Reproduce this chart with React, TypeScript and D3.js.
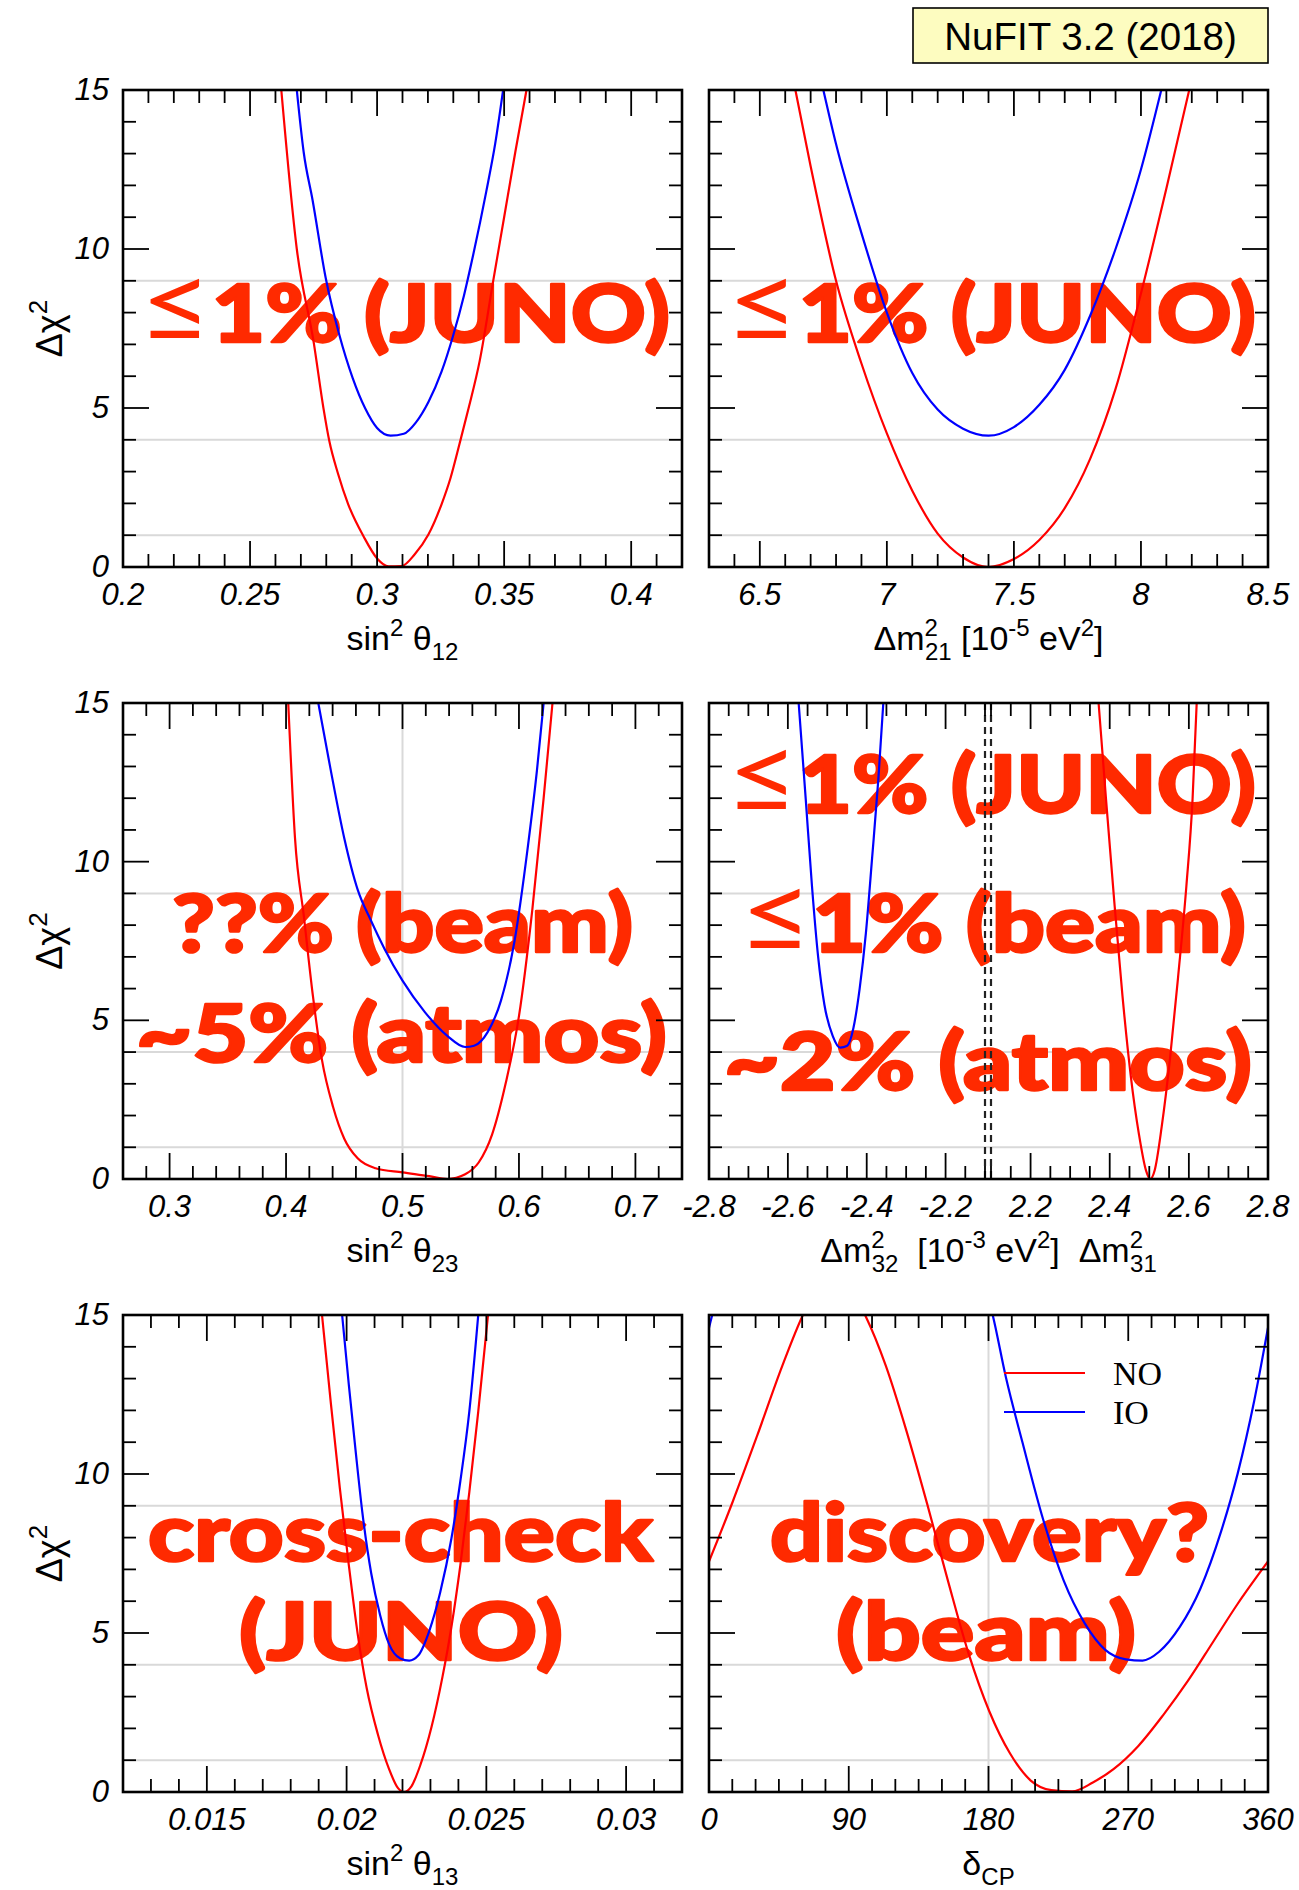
import * as d3 from "d3";

const W = 1299;
const H = 1890;

const NO_COLOR = "#ff0000";
const IO_COLOR = "#0000ff";
const NOTE_RED = "#ff2a00";
const SANS = "'Liberation Sans', Arial, Helvetica, sans-serif";
const NOTE_FONT = "Lato, 'Open Sans', 'DejaVu Sans', sans-serif";

// Δχ² profiles, as [x, Δχ²]
const s12NO: [number, number][] = [
  [0.2623, 15], [0.2684, 10], [0.2751, 7.04], [0.2789, 4.99], [0.2812, 3.96], [0.2846, 2.94],
  [0.2886, 1.98], [0.2947, 0.96], [0.3, 0.27], [0.3045, 0.02], [0.3096, 0.03], [0.3149, 0.41],
  [0.3202, 1.02], [0.3254, 1.98], [0.3289, 2.8], [0.3325, 3.89], [0.336, 4.99], [0.3404, 6.49],
  [0.3456, 8.95], [0.35, 11.0], [0.3544, 13.05], [0.3588, 15],
];
const s12IO: [number, number][] = [
  [0.2684, 15], [0.2711, 13.05], [0.2746, 11.54], [0.2798, 9.08], [0.2851, 7.31], [0.2904, 5.94],
  [0.2953, 4.99], [0.3, 4.37], [0.3053, 4.13], [0.3105, 4.19], [0.3153, 4.55], [0.3202, 5.19],
  [0.3254, 6.15], [0.3298, 7.24], [0.3342, 8.54], [0.3377, 9.77], [0.343, 11.82], [0.3465, 13.32],
  [0.3496, 15],
];

const dm21NO: [number, number][] = [
  [6.64, 15], [6.7, 12.6], [6.8, 9.0], [6.9, 6.4], [7.0, 4.2], [7.1, 2.4], [7.2, 1.05], [7.3, 0.3],
  [7.4, 0], [7.5, 0.25], [7.6, 0.85], [7.7, 1.85], [7.8, 3.4], [7.9, 5.6], [8.0, 8.6], [8.1, 11.9],
  [8.19, 15],
];
const dm21IO: [number, number][] = [
  [6.75, 15], [6.8, 13.3], [6.9, 10.5], [7.0, 8.0], [7.1, 6.1], [7.2, 4.95], [7.3, 4.35], [7.4, 4.13],
  [7.5, 4.4], [7.6, 5.1], [7.7, 6.2], [7.8, 7.9], [7.9, 10.0], [8.0, 12.5], [8.08, 15],
];

const s23NO: [number, number][] = [
  [0.4019, 15], [0.4077, 10.74], [0.4154, 8.25], [0.4231, 5.76], [0.4308, 3.76], [0.4404, 2.27],
  [0.45, 1.27], [0.4615, 0.65], [0.4769, 0.34], [0.5, 0.21], [0.523, 0.09], [0.5385, 0],
  [0.5538, 0.15], [0.5654, 0.52], [0.5769, 1.4], [0.5885, 3.0], [0.6, 5.13], [0.6115, 8.5],
  [0.6212, 12.0], [0.6288, 15],
];
const s23IO: [number, number][] = [
  [0.4277, 15], [0.4385, 12.86], [0.45, 10.74], [0.4615, 9.12], [0.4731, 8.13], [0.4846, 7.25],
  [0.5, 6.25], [0.5192, 5.26], [0.5385, 4.51], [0.5538, 4.16], [0.5615, 4.2], [0.5731, 4.63],
  [0.5846, 5.63], [0.5962, 7.5], [0.6077, 10.49], [0.6154, 12.86], [0.6212, 15],
];

// Δm²3ℓ: IO lives on the negative half, NO on the positive half
const dm3lIO: [number, number][] = [
  [-2.5726, 15], [-2.5547, 11.98], [-2.5389, 9.24], [-2.5232, 7.0], [-2.5074, 5.5], [-2.4863, 4.51],
  [-2.4674, 4.14], [-2.4495, 4.2], [-2.4337, 4.76], [-2.4179, 6.0], [-2.4021, 7.75], [-2.3863, 10.12],
  [-2.3705, 12.6], [-2.3579, 15],
];
const dm3lNO: [number, number][] = [
  [2.3719, 15], [2.3906, 11.98], [2.4115, 8.75], [2.4323, 5.76], [2.4531, 3.26], [2.474, 1.4],
  [2.4917, 0.27], [2.502, 0], [2.5135, 0.27], [2.5313, 1.64], [2.5521, 3.76], [2.5729, 6.38],
  [2.5938, 9.24], [2.6094, 11.98], [2.6198, 15],
];

const s13NO: [number, number][] = [
  [0.01912, 15], [0.01944, 12.2], [0.01976, 9.54], [0.02008, 7.13], [0.0204, 4.95], [0.02072, 3.26],
  [0.02112, 1.81], [0.02152, 0.72], [0.02184, 0.12], [0.02204, 0], [0.02232, 0.18], [0.02264, 0.85],
  [0.02304, 2.05], [0.02343, 3.62], [0.02375, 5.19], [0.02407, 7.13], [0.02439, 9.42],
  [0.02471, 11.96], [0.02506, 15],
];
const s13IO: [number, number][] = [
  [0.01984, 15], [0.02008, 12.8], [0.02032, 10.75], [0.02056, 8.82], [0.02088, 6.88], [0.0212, 5.56],
  [0.02152, 4.65], [0.02192, 4.2], [0.02224, 4.13], [0.02256, 4.29], [0.02296, 5.07], [0.02335, 6.28],
  [0.02375, 7.97], [0.02407, 9.78], [0.02439, 11.96], [0.02471, 15],
];

const dcpNO: [number, number][] = [
  [0, 7.25], [15.2, 9.12], [31.2, 11.23], [47.2, 13.4], [60.5, 15], [80, 16.5], [100.5, 15],
  [113.9, 13.4], [127.2, 11.35], [140.5, 9.06], [153.9, 6.64], [167.2, 4.35], [180.5, 2.54],
  [193.9, 1.21], [207.2, 0.36], [220.5, 0.06], [233.9, 0.02], [247.2, 0.3], [260.5, 0.72],
  [276.5, 1.45], [292.5, 2.42], [308.5, 3.5], [324.5, 4.71], [340.5, 5.92], [360, 7.25],
];
const dcpIO: [number, number][] = [
  [0, 14.6], [10, 16.5], [90, 24], [170, 17], [182.7, 15], [191.2, 13.04], [201.9, 10.99],
  [215.2, 8.57], [228.5, 6.64], [241.9, 5.31], [255.2, 4.47], [268.5, 4.17], [279.2, 4.13],
  [289.9, 4.41], [303.2, 5.19], [316.5, 6.4], [329.9, 8.21], [340.5, 10.02], [351.2, 12.32],
  [360, 14.6],
];

// axes
const chi2Labels = [0, 5, 10, 15];
const chi2Grid = [1, 4, 9];
const s12Ticks = [0.2, 0.25, 0.3, 0.35, 0.4];
const dm21Ticks = [6.5, 7, 7.5, 8, 8.5];
const s23Ticks = [0.3, 0.4, 0.5, 0.6, 0.7];
const dm32Ticks = [-2.8, -2.6, -2.4, -2.2];
const dm31Ticks = [2.2, 2.4, 2.6, 2.8];
const s13Ticks = [0.015, 0.02, 0.025, 0.03];
const dcpTicks = [0, 90, 180, 270, 360];
const legendNames = ["NO", "IO"];

// layout
const COLS: [number, number][] = [[123, 682], [709, 1268]];
const ROWS: [number, number][] = [[90, 567], [703, 1179], [1315, 1792]];
const MAJOR = 26;
const MINOR = 13;
const TITLE_SIZE = 34;
const SMALL = 24;

type Seg = { domain: [number, number]; range?: [number, number]; labels: number[]; minor: number };
type Curve = { data: [number, number][]; color: string; seg?: number };
type Note = { text: string; cx: number; base: number; width: number };

function stepValues(d0: number, d1: number, step: number) {
  const n = Math.round((d1 - d0) / step);
  return d3.range(n + 1).map((i) => +(d0 + i * step).toFixed(9));
}

// big red remark; the "≤" is set larger and lighter, as on the slide
function NoteText({ n }: { n: Note }) {
  const le = n.text.startsWith("≤");
  return (
    <text x={n.cx} y={n.base - 1} textLength={n.width} lengthAdjust="spacingAndGlyphs">
      {le && (
        <tspan fontSize={108} fontWeight={400} strokeWidth={0}>
          ≤
        </tspan>
      )}
      {le ? n.text.slice(1) : n.text}
    </text>
  );
}

function Panel(props: {
  id: string;
  col: number;
  row: number;
  segs: Seg[];
  curves: Curve[];
  vgrid?: number[];
  notes: Note[];
  title: any;
  dashed?: boolean;
  legend?: boolean;
}) {
  const { id, col, row, segs, curves, vgrid = [], notes, title, dashed, legend } = props;
  const [x0, x1] = COLS[col];
  const [y0, y1] = ROWS[row];
  const sy = d3.scaleLinear().domain([0, 15]).range([y1, y0]);
  const scales = segs.map((s) => d3.scaleLinear().domain(s.domain).range(s.range ?? [x0, x1]));

  const ticks: any[] = [];
  segs.forEach((s, si) => {
    const sx = scales[si];
    stepValues(s.domain[0], s.domain[1], s.minor).forEach((v, i) => {
      const major = s.labels.some((l) => Math.abs(l - v) < s.minor / 10);
      const len = major ? MAJOR : MINOR;
      const x = sx(v);
      ticks.push(<line key={`b${si}-${i}`} x1={x} x2={x} y1={y1} y2={y1 - len} />);
      ticks.push(<line key={`t${si}-${i}`} x1={x} x2={x} y1={y0} y2={y0 + len} />);
    });
  });
  stepValues(0, 15, 1).forEach((v, i) => {
    const len = v % 5 === 0 ? MAJOR : MINOR;
    const y = sy(v);
    ticks.push(<line key={`l${i}`} x1={x0} x2={x0 + len} y1={y} y2={y} />);
    ticks.push(<line key={`r${i}`} x1={x1} x2={x1 - len} y1={y} y2={y} />);
  });

  const cy = (y0 + y1) / 2;
  const cx = (x0 + x1) / 2;

  return (
    <g>
      <defs>
        <clipPath id={`clip-${id}`}>
          <rect x={x0} y={y0} width={x1 - x0} height={y1 - y0} />
        </clipPath>
      </defs>
      {/* reference lines */}
      <g stroke="#d9d9d9" strokeWidth={2}>
        {chi2Grid.map((g) => (
          <line key={g} x1={x0} x2={x1} y1={sy(g)} y2={sy(g)} />
        ))}
        {vgrid.map((g) => (
          <line key={`v${g}`} x1={scales[0](g)} x2={scales[0](g)} y1={y0} y2={y1} />
        ))}
      </g>
      {/* red annotations */}
      <g
        fill={NOTE_RED}
        stroke={NOTE_RED}
        strokeWidth={2.5}
        strokeLinejoin="round"
        fontFamily={NOTE_FONT}
        fontWeight={900}
        fontSize={80}
        textAnchor="middle"
      >
        {notes.map((n, i) => (
          <NoteText key={i} n={n} />
        ))}
      </g>
      {/* curves */}
      <g clipPath={`url(#clip-${id})`} fill="none" strokeWidth={2.2}>
        {curves.map((c, i) => {
          const sx = scales[c.seg ?? 0];
          const line = d3
            .line<[number, number]>()
            .x((d) => sx(d[0]))
            .y((d) => sy(d[1]))
            .curve(d3.curveMonotoneX);
          return <path key={i} d={line(c.data) ?? ""} stroke={c.color} />;
        })}
      </g>
      {dashed &&
        segs.slice(0, 2).map((s, si) => {
          const x = si === 0 ? scales[0](s.domain[1]) : scales[1](s.domain[0]);
          return (
            <line key={si} x1={x} x2={x} y1={y0} y2={y1} stroke="#222" strokeWidth={2.2} strokeDasharray="7,5" />
          );
        })}
      <g stroke="#000" strokeWidth={1.8}>{ticks}</g>
      <rect x={x0} y={y0} width={x1 - x0} height={y1 - y0} fill="none" stroke="#000" strokeWidth={2.6} />
      {/* tick labels */}
      <g fontFamily={SANS} fontStyle="italic" fontSize={31} fill="#000">
        {segs.map((s, si) =>
          s.labels.map((l) => (
            <text key={`${si}-${l}`} x={scales[si](l)} y={y1 + 38} textAnchor="middle">
              {String(l)}
            </text>
          ))
        )}
        {col === 0 &&
          chi2Labels.map((v) => (
            <text key={`y${v}`} x={x0 - 14} y={sy(v) + 10} textAnchor="end">
              {String(v)}
            </text>
          ))}
      </g>
      {col === 0 && (
        <text
          transform={`translate(62,${cy}) rotate(-90)`}
          textAnchor="middle"
          fontFamily={SANS}
          fontSize={TITLE_SIZE + 2}
        >
          Δχ
          <tspan dy={-15} fontSize={SMALL + 2}>
            2
          </tspan>
        </text>
      )}
      <g fontFamily={SANS} fontSize={TITLE_SIZE} fill="#000">
        <text x={cx} y={y1 + 83} textAnchor="middle" style={{ whiteSpace: "pre" }}>
          {title}
        </text>
      </g>
      {legend && (
        <g>
          {legendNames.map((name, i) => (
            <g key={name}>
              <line
                x1={1004}
                x2={1085}
                y1={1373 + i * 39}
                y2={1373 + i * 39}
                stroke={i === 0 ? NO_COLOR : IO_COLOR}
                strokeWidth={2.2}
              />
              <text
                x={1113}
                y={1373 + i * 39 + 12}
                fontFamily="'Liberation Serif', 'Times New Roman', serif"
                fontSize={34}
              >
                {name}
              </text>
            </g>
          ))}
        </g>
      )}
    </g>
  );
}

const SUP = { dy: -14, fontSize: SMALL };

export default function App() {
  return (
    <svg
      width={W}
      height={H}
      viewBox={`0 0 ${W} ${H}`}
      style={{ position: "absolute", left: 0, top: 0, background: "#fff" }}
    >
      <rect width={W} height={H} fill="#fff" />
      <rect x={913} y={8} width={355} height={55} fill="#fdfcc0" stroke="#000" strokeWidth={1.6} />
      <text x={1090.5} y={50} textAnchor="middle" fontFamily={SANS} fontSize={38.5}>
        NuFIT 3.2 (2018)
      </text>

      <Panel
        id="s12"
        col={0}
        row={0}
        segs={[{ domain: [0.2, 0.42], labels: s12Ticks, minor: 0.01 }]}
        curves={[
          { data: s12NO, color: NO_COLOR },
          { data: s12IO, color: IO_COLOR },
        ]}
        notes={[{ text: "≤1% (JUNO)", cx: 404.5, base: 343, width: 531 }]}
        title={
          <>
            {"sin"}
            <tspan {...SUP}>2</tspan>
            <tspan dy={14}>{" θ"}</tspan>
            <tspan dy={10} fontSize={SMALL}>12</tspan>
          </>
        }
      />
      <Panel
        id="dm21"
        col={1}
        row={0}
        segs={[{ domain: [6.3, 8.5], labels: dm21Ticks, minor: 0.1 }]}
        curves={[
          { data: dm21NO, color: NO_COLOR },
          { data: dm21IO, color: IO_COLOR },
        ]}
        notes={[{ text: "≤1% (JUNO)", cx: 991, base: 343, width: 530 }]}
        title={
          <>
            {"Δm"}
            <tspan {...SUP}>2</tspan>
            <tspan dx={-13} dy={24} fontSize={SMALL}>21</tspan>
            <tspan dy={-10}>{" [10"}</tspan>
            <tspan {...SUP}>-5</tspan>
            <tspan dy={14}>{" eV"}</tspan>
            <tspan {...SUP}>2</tspan>
            <tspan dy={14}>]</tspan>
          </>
        }
      />
      <Panel
        id="s23"
        col={0}
        row={1}
        segs={[{ domain: [0.26, 0.74], labels: s23Ticks, minor: 0.02 }]}
        vgrid={[0.5]}
        curves={[
          { data: s23NO, color: NO_COLOR },
          { data: s23IO, color: IO_COLOR },
        ]}
        notes={[
          { text: "??% (beam)", cx: 402.5, base: 953, width: 461 },
          { text: "~5% (atmos)", cx: 401.5, base: 1063, width: 531 },
        ]}
        title={
          <>
            {"sin"}
            <tspan {...SUP}>2</tspan>
            <tspan dy={14}>{" θ"}</tspan>
            <tspan dy={10} fontSize={SMALL}>23</tspan>
          </>
        }
      />
      <Panel
        id="dm3l"
        col={1}
        row={1}
        dashed
        segs={[
          { domain: [-2.8, -2.1], range: [709, 985], labels: dm32Ticks, minor: 0.05 },
          { domain: [2.1, 2.8], range: [991, 1268], labels: dm31Ticks, minor: 0.05 },
        ]}
        curves={[
          { data: dm3lIO, color: IO_COLOR, seg: 0 },
          { data: dm3lNO, color: NO_COLOR, seg: 1 },
        ]}
        notes={[
          { text: "≤1% (JUNO)", cx: 991, base: 814, width: 530 },
          { text: "≤1% (beam)", cx: 992.5, base: 953, width: 507 },
          { text: "~2% (atmos)", cx: 988, base: 1091, width: 528 },
        ]}
        title={
          <>
            {"Δm"}
            <tspan {...SUP}>2</tspan>
            <tspan dx={-13} dy={24} fontSize={SMALL}>32</tspan>
            <tspan dy={-10}>{"  [10"}</tspan>
            <tspan {...SUP}>-3</tspan>
            <tspan dy={14}>{" eV"}</tspan>
            <tspan {...SUP}>2</tspan>
            <tspan dy={14}>{"]  Δm"}</tspan>
            <tspan {...SUP}>2</tspan>
            <tspan dx={-13} dy={24} fontSize={SMALL}>31</tspan>
          </>
        }
      />
      <Panel
        id="s13"
        col={0}
        row={2}
        segs={[{ domain: [0.012, 0.032], labels: s13Ticks, minor: 0.001 }]}
        curves={[
          { data: s13NO, color: NO_COLOR },
          { data: s13IO, color: IO_COLOR },
        ]}
        notes={[
          { text: "cross-check", cx: 400.5, base: 1562, width: 505 },
          { text: "(JUNO)", cx: 401, base: 1661, width: 324 },
        ]}
        title={
          <>
            {"sin"}
            <tspan {...SUP}>2</tspan>
            <tspan dy={14}>{" θ"}</tspan>
            <tspan dy={10} fontSize={SMALL}>13</tspan>
          </>
        }
      />
      <Panel
        id="dcp"
        col={1}
        row={2}
        legend
        segs={[{ domain: [0, 360], labels: dcpTicks, minor: 15 }]}
        vgrid={[180]}
        curves={[
          { data: dcpNO, color: NO_COLOR },
          { data: dcpIO, color: IO_COLOR },
        ]}
        notes={[
          { text: "discovery?", cx: 989.5, base: 1562, width: 439 },
          { text: "(beam)", cx: 986, base: 1661, width: 300 },
        ]}
        title={
          <>
            {"δ"}
            <tspan dy={10} fontSize={SMALL}>CP</tspan>
          </>
        }
      />
    </svg>
  );
}
